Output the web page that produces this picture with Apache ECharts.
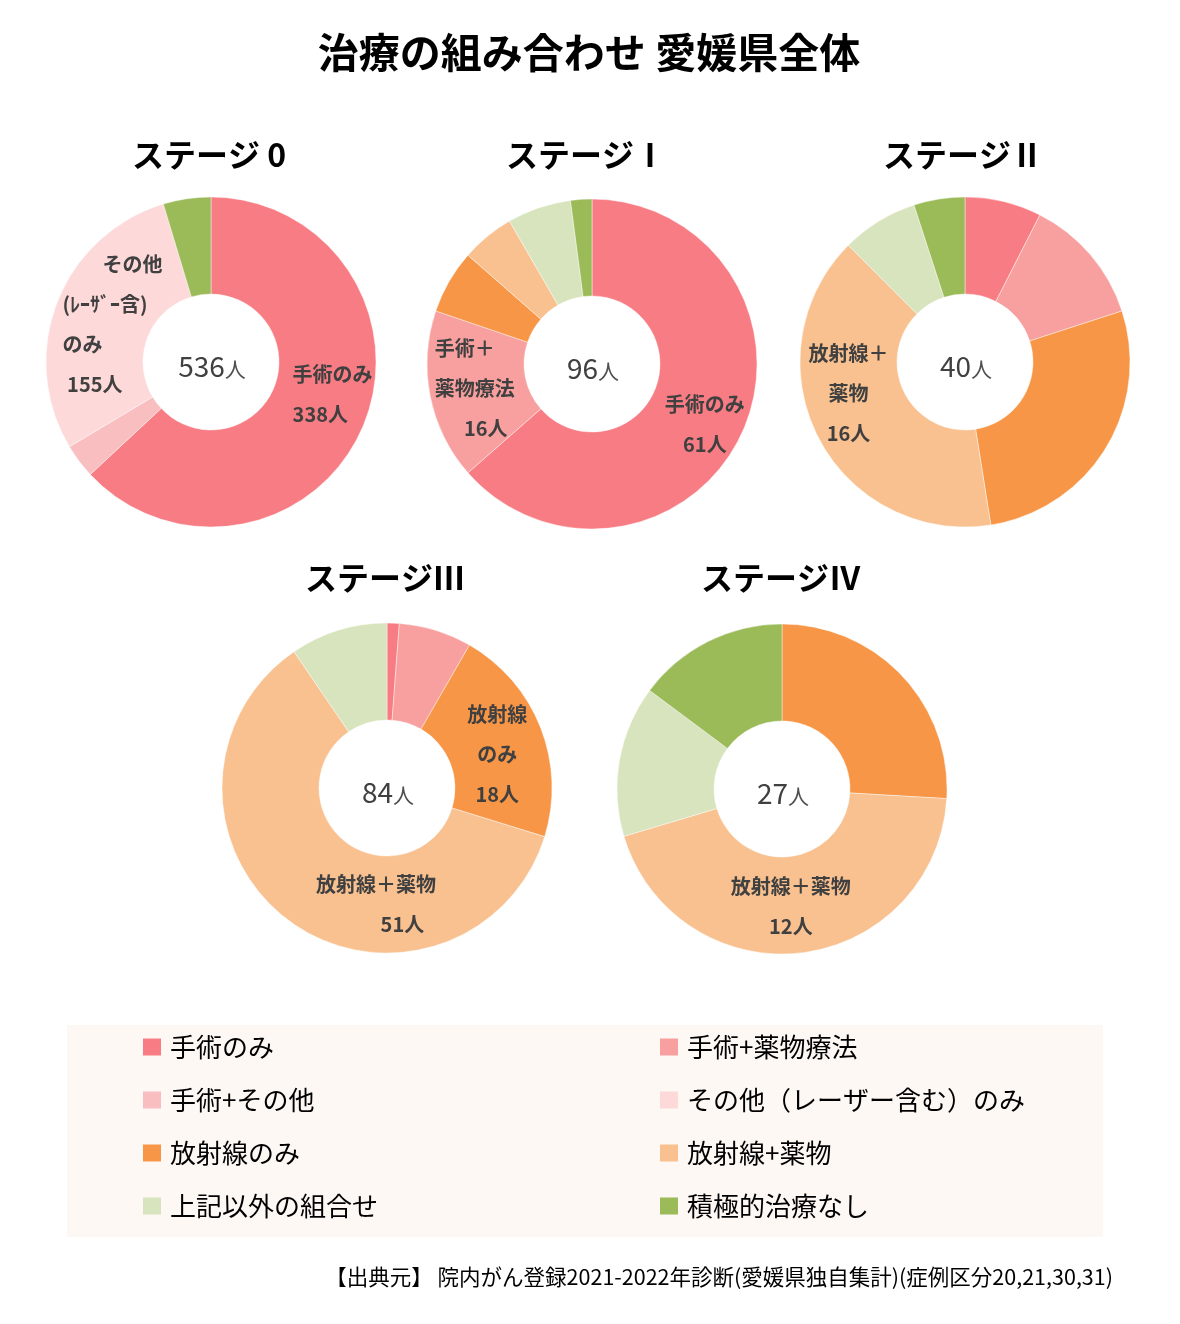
<!DOCTYPE html>
<html>
<head>
<meta charset="utf-8">
<script src="https://cdn.jsdelivr.net/npm/echarts@6/dist/echarts.min.js"></script>
<style>
html,body{margin:0;padding:0;background:#ffffff;}
#chart{width:1180px;height:1324px;}
</style>
</head>
<body>
<div id="chart"></div>
<script>
// ---------- data ----------
const categories = ['手術のみ', '手術+薬物療法', '手術+その他', 'その他（レーザー含む）のみ',
                    '放射線のみ', '放射線+薬物', '上記以外の組合せ', '積極的治療なし'];
const stageTitles = ['ステージ 0', 'ステージⅠ', 'ステージⅡ', 'ステージⅢ', 'ステージⅣ'];
const stage0 = [338, 0, 18, 155, 0, 0, 0, 25];
const stage1 = [61, 16, 0, 0, 6, 5, 6, 2];
const stage2 = [3, 5, 0, 0, 11, 16, 3, 2];
const stage3 = [1, 6, 0, 0, 18, 51, 8, 0];
const stage4 = [0, 0, 0, 0, 7, 12, 4, 4];
const stageValues = [stage0, stage1, stage2, stage3, stage4];
const mainTitle = '治療の組み合わせ 愛媛県全体';
const sourceNote = '【出典元】 院内がん登録2021-2022年診断(愛媛県独自集計)(症例区分20,21,30,31)';
const countUnit = '人';
// slice label text lines (count line is appended)
const sliceLabelText = [
  {0: ['手術のみ'], 3: ['　　その他', '(ﾚｰｻﾞｰ含)', 'のみ']},
  {0: ['手術のみ'], 1: ['手術＋', '薬物療法']},
  {5: ['放射線＋', '薬物']},
  {4: ['放射線', 'のみ'], 5: ['放射線＋薬物']},
  {5: ['放射線＋薬物']}
];

// ---------- styles / layout ----------
const colors = ['#F87C83', '#F8A09F', '#F9BEC0', '#FDD9DA', '#F79646', '#F9C190', '#D7E4BD', '#9BBB59'];
const FONT = '"Noto Sans CJK JP", "Noto Sans", sans-serif';
const pieCenters = [[211, 362], [592, 364], [965, 362], [387, 788], [782, 789]];
const titleCenters = [[209, 155], [586, 155], [963, 155], [385, 578], [781, 578]];
const labelLayoutCfg = [
  {0: {left: true, dx: 12, dy: -15, prefix: ''}, 3: {left: true, dx: 13, dy: 6, prefix: ' '}},
  {0: {dx: 4, dy: 11, prefix: ''}, 1: {left: true, dx: 0, dy: 1, prefix: '　  '}},
  {5: {dx: -10, dy: -23, prefix: ''}},
  {4: {dx: -1, dy: 10, prefix: ''}, 5: {left: true, dx: 60, dy: 20, prefix: '　　　 '}},
  {5: {dx: -5, dy: -1, prefix: ''}}
];
const labelColor = '#404040';

const chart = echarts.init(document.getElementById('chart'), null, {renderer: 'canvas'});

const series = stageValues.map(function (vals, s) {
  const data = [];
  const layoutByIndex = [];
  vals.forEach(function (v, i) {
    if (v <= 0) return;
    const item = {name: categories[i], value: v, itemStyle: {color: colors[i]}};
    const txt = sliceLabelText[s][i];
    if (txt) {
      const cfg = labelLayoutCfg[s][i];
      const lines = txt.concat([cfg.prefix + v + countUnit]);
      const formatter = cfg.left ? lines.map(function (l) { return '{l|' + l + '}'; }).join('\n') : lines.join('\n');
      item.label = {show: true, formatter: formatter};
      layoutByIndex[data.length] = cfg;
    }
    data.push(item);
  });
  return {
    type: 'pie',
    center: pieCenters[s],
    radius: [68, 165],
    startAngle: 90,
    clockwise: true,
    avoidLabelOverlap: false,
    animation: false,
    silent: true,
    itemStyle: {borderColor: 'rgba(255,255,255,0.7)', borderWidth: 0.6},
    label: {
      show: false,
      position: 'inside',
      color: labelColor,
      fontFamily: FONT,
      fontWeight: 'bold',
      fontSize: 20,
      lineHeight: 40,
      rich: {
        l: {align: 'left', color: labelColor, fontFamily: FONT, fontWeight: 'bold', fontSize: 20, lineHeight: 40}
      }
    },
    labelLine: {show: false},
    labelLayout: function (p) {
      const cfg = layoutByIndex[p.dataIndex];
      if (!cfg) return {};
      return {dx: cfg.dx, dy: cfg.dy};
    },
    emphasis: {disabled: true},
    data: data
  };
});

const titles = [{
  text: mainTitle,
  left: 589, top: 52, textAlign: 'center', textVerticalAlign: 'middle', padding: 0,
  textStyle: {fontFamily: FONT, fontWeight: 'bold', fontSize: 41, color: '#000'}
}];
stageTitles.forEach(function (t, s) {
  titles.push({
    text: t, left: titleCenters[s][0], top: titleCenters[s][1],
    textAlign: 'center', textVerticalAlign: 'middle', padding: 0,
    textStyle: {fontFamily: FONT, fontWeight: 'bold', fontSize: 32, color: '#000'}
  });
  const total = stageValues[s].reduce(function (a, b) { return a + b; }, 0);
  titles.push({
    text: '{n|' + total + '}{u|' + countUnit + '}',
    left: pieCenters[s][0] + 1, top: pieCenters[s][1] + 1,
    textAlign: 'center', textVerticalAlign: 'middle', padding: 0,
    textStyle: {
      fontWeight: 'normal',
      rich: {
        n: {fontFamily: FONT, fontWeight: 'normal', fontSize: 28, color: '#404040', verticalAlign: 'bottom', lineHeight: 34},
        u: {fontFamily: FONT, fontWeight: 'normal', fontSize: 21, color: '#505050', verticalAlign: 'bottom', lineHeight: 32}
      }
    }
  });
});
titles.push({
  text: sourceNote, right: 67, top: 1277, textVerticalAlign: 'middle', padding: 0,
  textStyle: {fontFamily: FONT, fontWeight: 'normal', fontSize: 21.5, color: '#000'}
});

const legendCommon = {
  orient: 'vertical', top: 1032, padding: 0,
  itemWidth: 18, itemHeight: 17, itemGap: 23, icon: 'rect',
  selectedMode: false,
  itemStyle: {borderWidth: 0},
  textStyle: {fontFamily: FONT, fontSize: 26, color: '#000', lineHeight: 30, padding: [0, 0, 0, 4]}
};

const option = {
  backgroundColor: '#ffffff',
  animation: false,
  color: colors,
  textStyle: {fontFamily: FONT},
  title: titles,
  graphic: [{
    type: 'rect', left: 67, top: 1025, z: -10, silent: true,
    shape: {width: 1036, height: 212},
    style: {fill: '#FEF8F5'}
  }],
  legend: [
    Object.assign({}, legendCommon, {left: 143, data: [categories[0], categories[2], categories[4], categories[6]]}),
    Object.assign({}, legendCommon, {left: 660, data: [categories[1], categories[3], categories[5], categories[7]]})
  ],
  series: series
};
chart.setOption(option);
</script>
</body>
</html>
